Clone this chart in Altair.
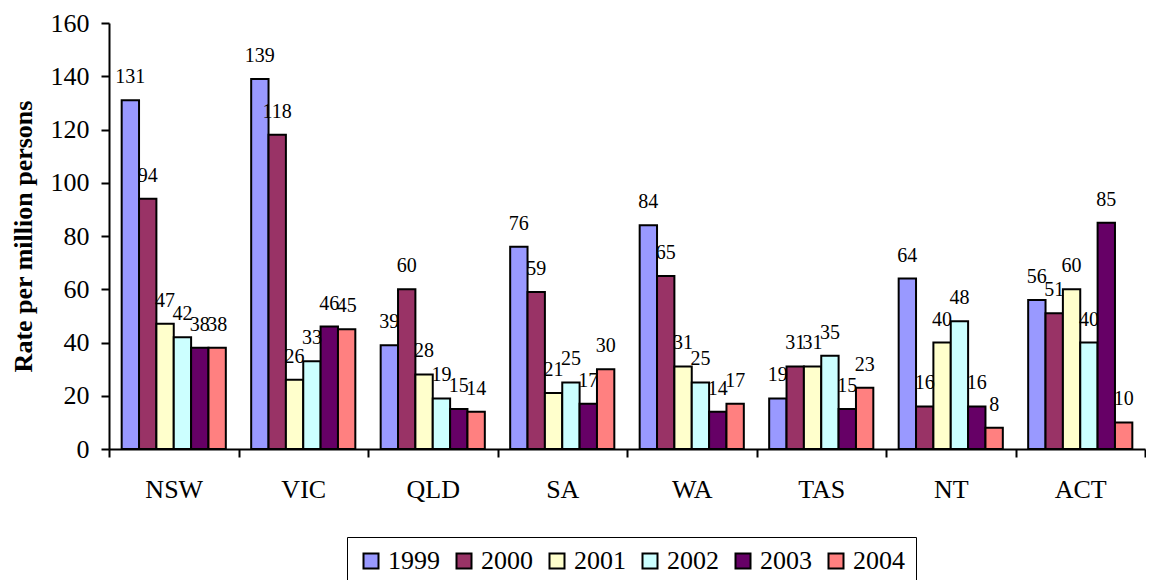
import altair as alt
import pandas as pd

regions = ["NSW", "VIC", "QLD", "SA", "WA", "TAS", "NT", "ACT"]
years = ["1999", "2000", "2001", "2002", "2003", "2004"]
v1999 = [131, 139, 39, 76, 84, 19, 64, 56]
v2000 = [94, 118, 60, 59, 65, 31, 16, 51]
v2001 = [47, 26, 28, 21, 31, 31, 40, 60]
v2002 = [42, 33, 19, 25, 25, 35, 48, 40]
v2003 = [38, 46, 15, 17, 14, 15, 16, 85]
v2004 = [38, 45, 14, 30, 17, 23, 8, 10]
colors = ["#9999FF", "#993366", "#FFFFCC", "#CCFFFF", "#660066", "#FF8080"]
y_ticks = [0, 20, 40, 60, 80, 100, 120, 140, 160]

series = [v1999, v2000, v2001, v2002, v2003, v2004]
rows = []
for yr, vals in zip(years, series):
    for reg, v in zip(regions, vals):
        rows.append({"region": reg, "year": yr, "value": v})
df = pd.DataFrame(rows)

FONT = "Liberation Serif"

x_enc = alt.X(
    "region:N",
    sort=regions,
    scale=alt.Scale(paddingInner=0, paddingOuter=0),
    axis=alt.Axis(
        title=None, labelAngle=0, tickBand="extent", tickSize=8, tickWidth=2,
        domainWidth=2, domainColor="black", tickColor="black",
        labelFontSize=26, labelPadding=19, labelColor="black", labelFont=FONT,
    ),
)
xo_enc = alt.XOffset("year:N", sort=years, scale=alt.Scale(paddingOuter=0.73, paddingInner=0))
y_enc = alt.Y(
    "value:Q",
    scale=alt.Scale(domain=[0, 160], nice=False),
    axis=alt.Axis(
        values=y_ticks, title="Rate per million persons", grid=False,
        tickSize=8, tickWidth=2, domainWidth=2, domainColor="black", tickColor="black",
        labelFontSize=26, labelPadding=12, labelColor="black", labelFont=FONT,
        titleFontSize=26, titleFontWeight="bold", titlePadding=14, titleColor="black",
        titleFont=FONT,
    ),
)

bars = alt.Chart(df).mark_bar(stroke="black", strokeWidth=2).encode(
    x=x_enc,
    xOffset=xo_enc,
    y=y_enc,
    color=alt.Color(
        "year:N",
        sort=years,
        scale=alt.Scale(domain=years, range=colors),
        legend=alt.Legend(
            title=None, orient="none", direction="horizontal",
            legendX=238, legendY=514,
            symbolType="square", symbolSize=225, symbolStrokeColor="black",
            symbolStrokeWidth=2, symbolOpacity=1,
            labelFontSize=26, labelFont=FONT, labelColor="black", labelOffset=4,
            columnPadding=11, padding=11, strokeColor="black", fillColor="white",
            labelLimit=0,
        ),
    ),
)

labels = alt.Chart(df).mark_text(
    baseline="bottom", dy=-13, fontSize=20, font=FONT, color="black"
).encode(
    x=alt.X("region:N", sort=regions),
    xOffset=alt.XOffset("year:N", sort=years),
    y=alt.Y("value:Q"),
    text=alt.Text("value:Q"),
)

chart = (
    alt.layer(bars, labels)
    .properties(width=1036, height=426, padding={"left": 2, "top": 2, "right": 0, "bottom": 0})
    .configure(font=FONT)
    .configure_view(stroke=None)
)

chart.save("out.html", embed_options={"renderer": "svg", "actions": False})
